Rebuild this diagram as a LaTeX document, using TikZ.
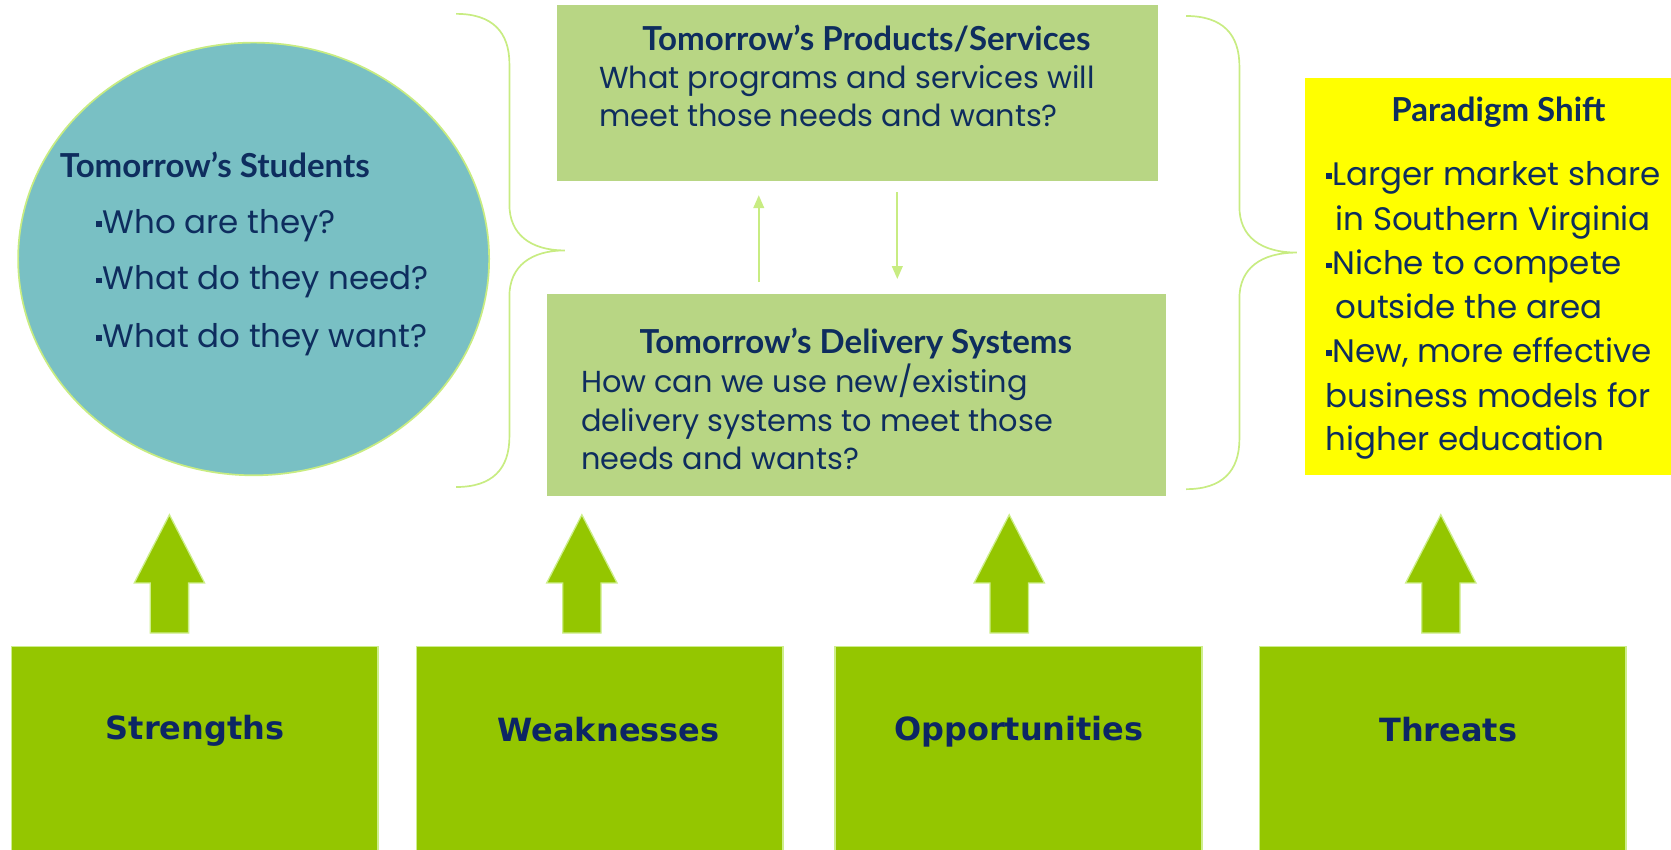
\documentclass[tikz,border=0pt]{standalone}
\usepackage{fontspec}
\setmainfont{Poppins}
\newfontfamily\titlefont{Lato}
\newfontfamily\labfont{DejaVu Sans}
\usetikzlibrary{shapes.geometric,arrows.meta}
\definecolor{navy}{RGB}{14,45,94}
\definecolor{labnavy}{RGB}{12,38,100}
\definecolor{teal}{RGB}{121,192,196}
\definecolor{panel}{RGB}{184,214,132}
\definecolor{brace}{RGB}{200,236,130}
\definecolor{swot}{RGB}{148,198,0}
\definecolor{swotedge}{RGB}{205,238,140}
\definecolor{paryellow}{RGB}{255,255,0}
\newcommand{\sqb}{\rule[0.2em]{0.18em}{0.18em}\hspace{0.02em}}
\tikzset{
  panelbox/.style={rectangle, fill=panel, draw=none, inner sep=0pt},
  swotbox/.style={rectangle, fill=swot, draw=swotedge, line width=1.5pt, inner sep=0pt, minimum width=344pt},
  ttl/.style={text=navy, font=\titlefont\bfseries\fontsize{31}{34}\selectfont, inner sep=0pt},
  body/.style={text=navy, font=\fontsize{28.5}{32}\selectfont, inner sep=0pt},
  bodylarge/.style={text=navy, font=\fontsize{30.5}{34}\selectfont, inner sep=0pt},
  lab/.style={text=labnavy, font=\labfont\bfseries\fontsize{30}{33}\selectfont, inner sep=0pt},
  bracestyle/.style={draw=brace, line width=1.6pt},
  thinarrow/.style={draw=brace, line width=1.6pt, -{Triangle[length=12pt,width=10pt]}},
  bigarrow/.style={fill=swot, draw=swotedge, line width=1.2pt},
}
\begin{document}
\begin{tikzpicture}[x=1pt,y=-1pt]
\useasboundingbox (0,0) rectangle (1568,797);
% circle
\node[ellipse, fill=teal, draw=brace, line width=1.6pt, minimum width=442pt, minimum height=406pt, inner sep=0pt] (stud) at (238,243) {};
\node[ttl, anchor=base west] (studt) at (56,167) {Tomorrow’s Students};
\node[bodylarge, anchor=base west] (stud1) at (90,219) {\sqb Who are they?};
\node[bodylarge, anchor=base west] (stud2) at (90,272) {\sqb What do they need?};
\node[bodylarge, anchor=base west] (stud3) at (90,326) {\sqb What do they want?};
% braces
\draw[bracestyle] (428,13) .. controls (462,13) and (478,30) .. (478,60) -- (478,192) .. controls (478,220) and (498,235) .. (530,235) .. controls (498,235) and (478,250) .. (478,278) -- (478,410) .. controls (478,440) and (462,457) .. (428,457);
\draw[bracestyle] (1113,15) .. controls (1147,15) and (1163,32) .. (1163,62) -- (1163,194) .. controls (1163,222) and (1183,237) .. (1217,237) .. controls (1183,237) and (1163,252) .. (1163,280) -- (1163,412) .. controls (1163,442) and (1147,459) .. (1113,459);
% products box
\node[panelbox, minimum width=564pt, minimum height=165pt] (prod) at (805,87.5) {};
\node[ttl, anchor=base] (prodt) at (813,47) {Tomorrow’s Products/Services};
\node[body, anchor=base west] (prod1) at (562,83) {What programs and services will};
\node[body, anchor=base west] (prod2) at (562,119) {meet those needs and wants?};
% delivery box
\node[panelbox, minimum width=581pt, minimum height=189pt] (deliv) at (803.5,370.5) {};
\node[ttl, anchor=base] (delivt) at (803,332) {Tomorrow’s Delivery Systems};
\node[body, anchor=base west] (deliv1) at (545,368) {How can we use new/existing};
\node[body, anchor=base west] (deliv2) at (545,405) {delivery systems to meet those};
\node[body, anchor=base west] (deliv3) at (545,441) {needs and wants?};
% thin arrows
\coordinate (ux) at (712,0);
\coordinate (dx) at (842,0);
\draw[thinarrow, shorten <=11pt, shorten >=13pt] (ux |- deliv.north) -- (ux |- prod.south);
\draw[thinarrow, shorten <=10pt, shorten >=14pt] (dx |- prod.south) -- (dx |- deliv.north);
% paradigm shift
\node[rectangle, fill=paryellow, inner sep=0pt, minimum width=343pt, minimum height=373pt] (para) at (1396.5,259.5) {};
\node[ttl, anchor=base] (parat) at (1406,114) {Paradigm Shift};
\node[bodylarge, anchor=base west] (para1) at (1244,174) {\sqb Larger market share};
\node[bodylarge, anchor=base west] (para2) at (1253,216) {in Southern Virginia};
\node[bodylarge, anchor=base west] (para3) at (1244,258) {\sqb Niche to compete};
\node[bodylarge, anchor=base west] (para4) at (1253,299) {outside the area};
\node[bodylarge, anchor=base west] (para5) at (1244,340) {\sqb New, more effective};
\node[bodylarge, anchor=base west] (para6) at (1244,382) {business models for};
\node[bodylarge, anchor=base west] (para7) at (1244,423) {higher education};
% SWOT boxes
\node[swotbox, minimum height=214pt, anchor=north west] (str) at (10,606) {};
\node[swotbox, minimum height=214pt, anchor=north west] (weak) at (390,606) {};
\node[swotbox, minimum height=214pt, anchor=north west] (opp) at (783,606) {};
\node[swotbox, minimum height=214pt, anchor=north west] (thr) at (1181,606) {};
\node[lab, anchor=base] (strl) at (183,694) {Strengths};
\node[lab, anchor=base] (weakl) at (571,696) {Weaknesses};
\node[lab, anchor=base] (oppl) at (956,695) {Opportunities};
\node[lab, anchor=base] (thrl) at (1359,696) {Threats};
% big arrows
\foreach \cx in {159,546,947,1352}{
  \draw[bigarrow] (\cx,483) -- (\cx+33,547) -- (\cx+18,547) -- (\cx+18,594) -- (\cx-18,594) -- (\cx-18,547) -- (\cx-33,547) -- cycle;
}
\end{tikzpicture}
\end{document}
